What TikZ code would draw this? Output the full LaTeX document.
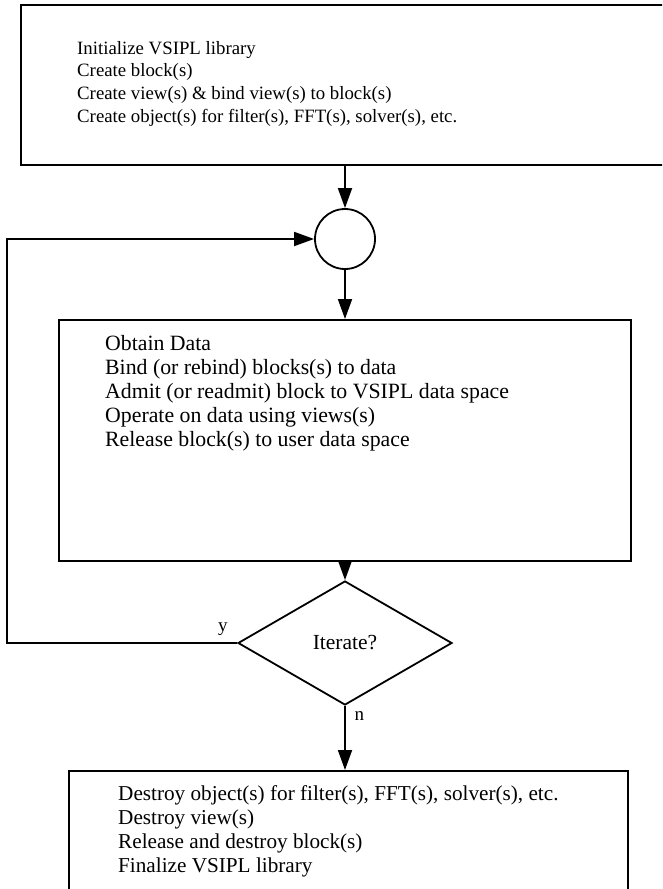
\documentclass[tikz,border=0pt]{standalone}
\usepackage{fontspec}
\setmainfont{Liberation Serif}
\usetikzlibrary{shapes.geometric,arrows.meta,positioning}
\tikzset{
  flowbox/.style={draw,line width=2.2pt,rectangle,inner sep=0pt,anchor=north west},
  steptext/.style={align=left,anchor=north west,inner sep=0pt,font=\fontsize{18.8}{22.6}\selectfont},
  bigtext/.style={steptext,font=\fontsize{21.8}{24}\selectfont},
  flowline/.style={line width=1.8pt},
  flow/.style={flowline,-{Triangle[length=20pt,width=14pt]}},
}
\begin{document}
\begin{tikzpicture}[x=1pt,y=-1pt,font=\fontsize{19}{23.6}\selectfont]
    \useasboundingbox (0,0) rectangle (662,889);
    \clip (0,0) rectangle (662,889);
    %% Set-up
    \node[flowbox,minimum width=660pt,minimum height=160pt] (setup) at (20,4) {};
    \node[steptext] (setuptext) at (77,41) {Initialize VSIPL library\\
        Create block(s)\\
        Create view(s) \& bind view(s) to block(s)\\
        Create object(s) for filter(s), FFT(s), solver(s), etc.};
    %% Junction
    \node[draw,circle,line width=1.8pt,minimum size=60pt] (merge) at (345,239) {};
    %% Processing
    \node[flowbox,minimum width=572pt,minimum height=241pt] (process) at (58,319) {};
    \node[bigtext] (processtext) at (105,335) {Obtain Data\\
        Bind (or rebind) blocks(s) to data\\
        Admit (or readmit) block to VSIPL data space\\
        Operate on data using views(s)\\
        Release block(s) to user data space};
    %% Decision
    \node[draw,diamond,line width=1.8pt,minimum width=214pt,minimum height=124pt,inner sep=0pt,font=\fontsize{21.5}{24}\selectfont] (iter) at (345,643) {Iterate?};
    \node[above left=4pt and 6pt of iter.west] (yes) {y};
    \node[below right=2pt and 6pt of iter.south] (no) {n};
    %% Clean-up
    \node[flowbox,minimum width=559pt,minimum height=200pt] (cleanup) at (68,770) {};
    \node[bigtext,font=\fontsize{21.2}{24}\selectfont] (cleanuptext) at (118,785) {Destroy object(s) for filter(s), FFT(s), solver(s), etc.\\
        Destroy view(s)\\
        Release and destroy block(s)\\
        Finalize VSIPL library};
    %% Flow
    \coordinate (back) at (7,0);
    \draw[flow] (setup.south -| merge) -- (merge.north);
    \draw[flow] (merge.south) -- (process.north -| merge);
    \draw[flow] (process.south -| iter) -- (iter.north);
    \draw[flow] (iter.south) -- (cleanup.north -| iter);
    \draw[flow] (iter.west) -- (iter.west -| back) |- (merge.west);
\end{tikzpicture}
\end{document}
